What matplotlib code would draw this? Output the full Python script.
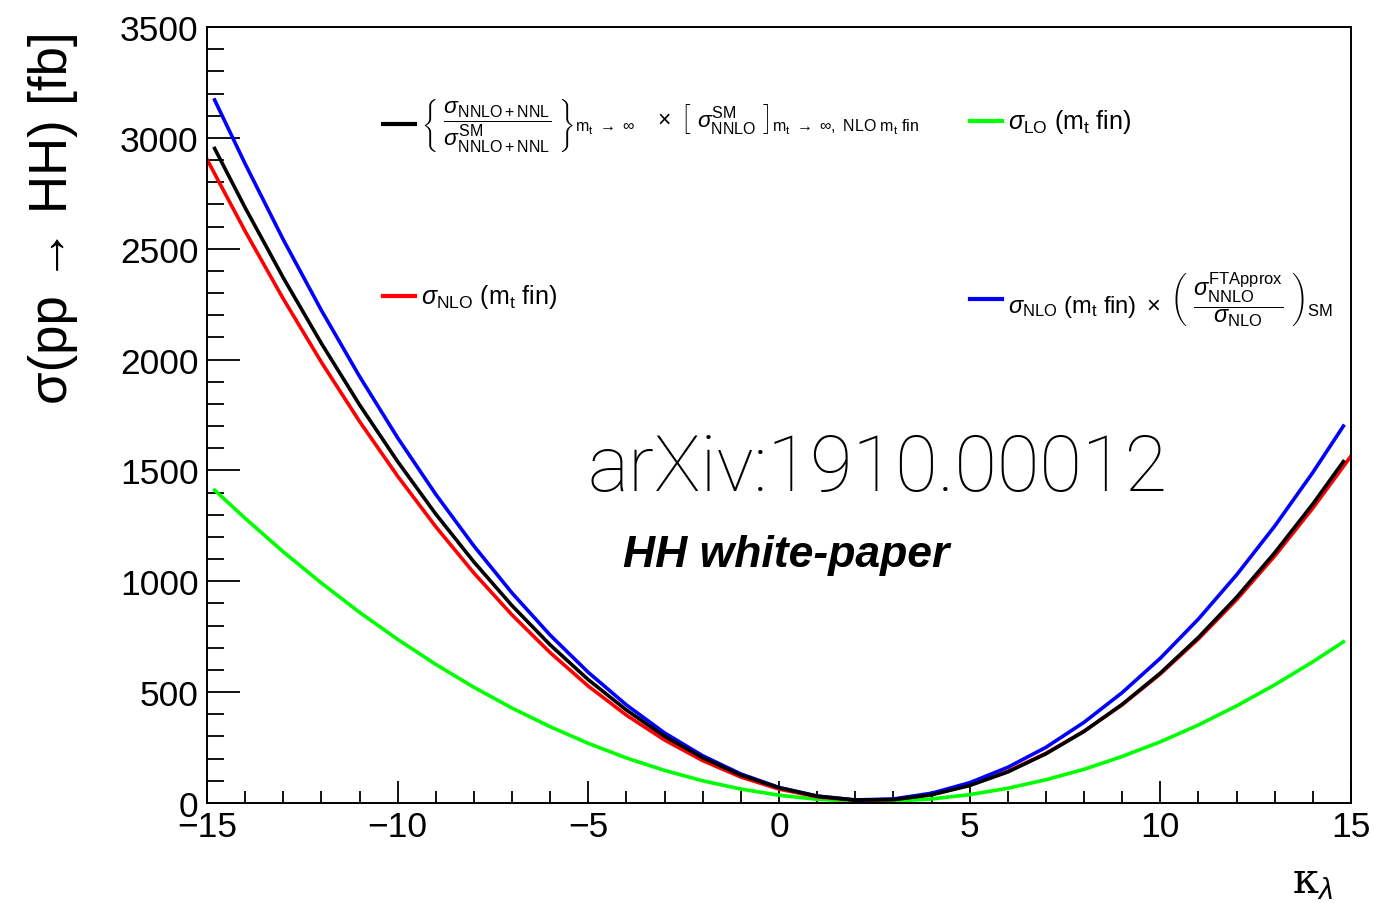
import matplotlib
matplotlib.use('Agg')
import matplotlib.pyplot as plt
from matplotlib.lines import Line2D
from matplotlib.ticker import MultipleLocator

plt.rcParams['font.family'] = ['Liberation Sans', 'DejaVu Sans']
plt.rcParams['mathtext.fontset'] = 'custom'
plt.rcParams['mathtext.rm'] = 'Liberation Sans'
plt.rcParams['mathtext.it'] = 'Liberation Sans:italic'
plt.rcParams['mathtext.bf'] = 'Liberation Sans:bold'

# kappa_lambda grids
kl_red = [-15, -14, -13, -12, -11, -10, -9, -8, -7, -6, -5, -4, -3, -2, -1, 0,
          1, 2, 3, 4, 5, 6, 7, 8, 9, 10, 11, 12, 13, 14, 15]
kl = [-14.8, -14, -13, -12, -11, -10, -9, -8, -7, -6, -5, -4, -3, -2, -1, 0,
      1, 2, 3, 4, 5, 6, 7, 8, 9, 10, 11, 12, 13, 14, 14.8]

# cross sections [fb]
xs_black = [2952, 2685, 2369, 2073, 1796, 1540, 1303, 1087, 890, 713, 556, 419,
            301, 204, 126, 68.8, 31.0, 13.2, 15.2, 37.0, 78.8, 140, 222, 323,
            445, 586, 747, 928, 1129, 1349, 1540]
xs_green = [1411, 1284, 1133, 992, 860, 738, 625, 522, 428, 344, 269, 203,
            147, 100, 62.9, 35.1, 16.7, 7.8, 8.3, 18.2, 37.6, 66.4, 105, 152,
            210, 276, 352, 438, 533, 637, 727]
xs_red = [2903, 2579, 2274, 1988, 1721, 1474, 1246, 1037, 848, 678, 527, 396,
          284, 191, 117, 62.8, 27.9, 12.2, 15.9, 38.8, 81.1, 143, 224, 324,
          443, 582, 740, 917, 1114, 1330, 1565]
xs_blue = [3171, 2883, 2541, 2222, 1924, 1647, 1392, 1159, 947, 757, 589, 442,
           316, 213, 131, 70.0, 31.1, 13.8, 18.1, 44.0, 91.5, 161, 251, 364,
           498, 653, 830, 1029, 1249, 1491, 1700]

W, H = 1374, 904
fig = plt.figure(figsize=(W / 100, H / 100), dpi=100)
ax = fig.add_axes([207 / W, 1 - 804 / H, (1351 - 207) / W, (804 - 28) / H])

lw = 2.6
ax.plot(kl, xs_green, color='#00ff00', lw=lw)
ax.plot(kl_red, xs_red, color='#ff0000', lw=lw)
ax.plot(kl, xs_blue, color='#0000ff', lw=lw)
ax.plot(kl, xs_black, color='black', lw=lw)

ax.set_xlim(-15, 15)
ax.set_ylim(0, 3500)
ax.xaxis.set_major_locator(MultipleLocator(5))
ax.xaxis.set_minor_locator(MultipleLocator(1))
ax.yaxis.set_major_locator(MultipleLocator(500))
ax.yaxis.set_minor_locator(MultipleLocator(100))
ax.tick_params(axis='x', which='major', direction='in', length=16, width=1.3,
               labelsize=25.5, pad=5)
ax.tick_params(axis='x', which='minor', direction='in', length=8.5, width=1.3)
ax.tick_params(axis='y', which='major', direction='in', length=24, width=1.3,
               labelsize=25.5, pad=6)
ax.tick_params(axis='y', which='minor', direction='in', length=12, width=1.3)
for s in ax.spines.values():
    s.set_linewidth(1.4)

ax.set_ylabel(r'σ(pp → HH) [fb]', fontsize=38)
ax.yaxis.set_label_coords(-0.113, 0.755)

fig.text(1313 / W, 1 - 860 / H, r'κ$_{λ}$', fontsize=30, family='DejaVu Serif',
         ha='center', va='top')

fig.text(878 / W, 1 - 470 / H, 'arXiv:1910.00012', fontsize=56,
         family='Roboto', fontweight='light', ha='center', va='center')
fig.text(786 / W, 1 - 555 / H, 'HH white-paper', fontsize=32,
         fontweight='bold', fontstyle='italic', ha='center', va='center')


def entry(x0, y0, color, label, size=18):
    fig.add_artist(Line2D([x0 / W, (x0 + 32) / W], [1 - y0 / H, 1 - y0 / H],
                          color=color, lw=3))
    fig.text((x0 + 38) / W, 1 - y0 / H, label, fontsize=size, ha='left',
             va='center')


entry(383, 125, 'black',
      r'$\left\{\ \dfrac{\sigma_{\mathrm{NNLO+NNL}}}{\sigma^{\mathrm{SM}}_{\mathrm{NNLO+NNL}}}\ \right\}_{\mathrm{m}_\mathrm{t}\ \rightarrow\ \infty}'
      r'\ \ \ \times\ \left[\ \sigma^{\mathrm{SM}}_{\mathrm{NNLO}}\ \right]_{\mathrm{m}_\mathrm{t}\ \rightarrow\ \infty,\ \mathrm{NLO\ m}_\mathrm{t}\ \mathrm{fin}}$',
      size=16.5)
entry(970, 122, '#00ff00', r'$\sigma_{\mathrm{LO}}\ (\mathrm{m}_\mathrm{t}\ \mathrm{fin})$')
entry(383, 297, '#ff0000', r'$\sigma_{\mathrm{NLO}}\ (\mathrm{m}_\mathrm{t}\ \mathrm{fin})$')
entry(970, 300, '#0000ff',
      r'$\sigma_{\mathrm{NLO}}\ (\mathrm{m}_\mathrm{t}\ \mathrm{fin})\ \times\ \left(\ \dfrac{\sigma^{\mathrm{FTApprox}}_{\mathrm{NNLO}}}{\sigma_{\mathrm{NLO}}}\ \right)_{\mathrm{SM}}$',
      size=17)

fig.savefig('out.png', dpi=100)
